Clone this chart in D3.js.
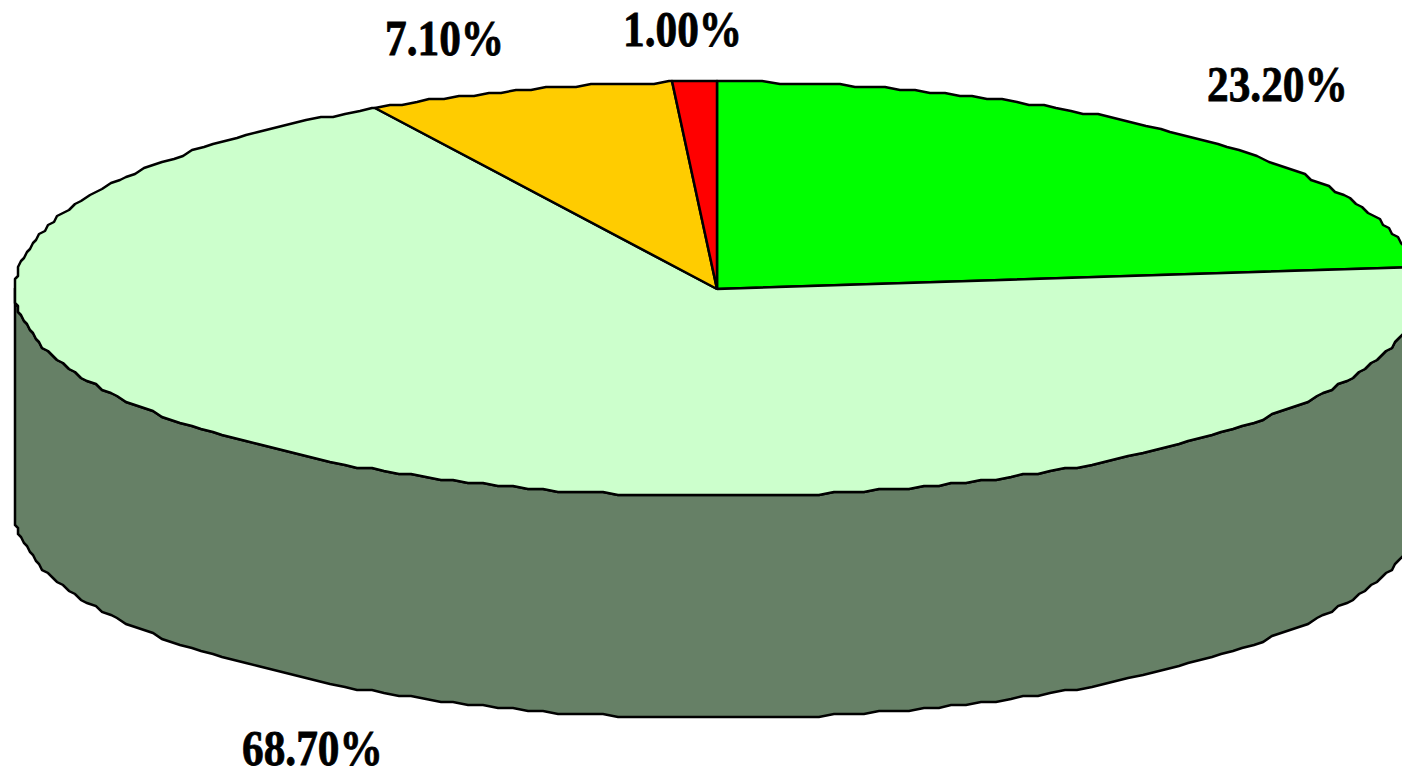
<!DOCTYPE html>
<html>
<head>
<meta charset="utf-8">
<script src="https://cdn.jsdelivr.net/npm/d3@7"></script>
<style>
  html, body { margin: 0; padding: 0; background: #fff; overflow: hidden; }
</style>
</head>
<body>
<div id="chart"></div>
<script>
const labels = ["23.20%", "68.70%", "7.10%", "1.00%"]
const values = [23.2, 68.7, 7.1, 1.0]
const colors = ["#00FF00", "#CCFFCC", "#FFCC00", "#FF0000"]
const wallColor = "#668066"

const width = 1402
const height = 769
const cx = 717
const cy = 289
const rx = 702
const ry = 207
const depth = 222

// label anchors, x is left edge and y the baseline
const labelPos = [[1207, 101], [242, 765], [385, 55], [623, 46]]

const svg = d3.select("#chart")
    .append("svg")
    .attr("width", width)
    .attr("height", height)
    .style("display", "block")
    .style("background", "#fff")

const pie = d3.pie().sort(null).value(d => d)
const slices = pie(values)

// the original outline is rough, so points get snapped to a coarse grid
const snap = v => Math.round(v / 3) * 3

// 0 angle is 12 o'clock, going clockwise
const px = a => snap(cx + rx * Math.sin(a))
const py = a => snap(cy - ry * Math.cos(a))
const step = 0.022

function rimAngles(a0, a1) {
  return d3.range(a0, a1, step).concat([a1])
}

// side wall, only the front half of the disc shows
// uses the rim points of the big slice so both outlines stay on top of each other
const frontAngles = rimAngles(slices[1].startAngle, slices[1].endAngle)
    .filter(a => a >= Math.PI / 2 && a <= Math.PI * 1.5)
const wallAngles = [Math.PI / 2, ...frontAngles, Math.PI * 1.5]

const wall = d3.area()
    .x(a => px(a))
    .y0(a => py(a))
    .y1(a => py(a) + depth)

svg.append("path")
    .attr("d", wall(wallAngles))
    .attr("fill", wallColor)
    .attr("stroke", "#000")
    .attr("stroke-width", 2.5)

// top of the disc, one closed polygon per slice
const sliceLine = d3.line()
    .x(p => p[0])
    .y(p => p[1])

function slicePoints(d) {
  const rim = rimAngles(d.startAngle, d.endAngle).map(a => [px(a), py(a)])
  return [[cx, cy], ...rim, [cx, cy]]
}

svg.append("g")
  .selectAll("path")
  .data(slices)
  .join("path")
    .attr("d", d => sliceLine(slicePoints(d)))
    .attr("fill", (_, i) => colors[i])
    .attr("stroke", "#000")
    .attr("stroke-width", 2.5)
    .attr("stroke-linejoin", "round")

// font in the reference is taller than it is wide
svg.selectAll("text")
  .data(labels)
  .join("text")
    .attr("transform", (_, i) => `translate(${labelPos[i][0]},${labelPos[i][1]}) scale(0.85,1)`)
    .attr("font-family", "'Liberation Serif', serif")
    .attr("font-weight", "bold")
    .attr("font-size", 51)
    .attr("fill", "#000")
    .attr("stroke", "#000")
    .attr("stroke-width", 0.8)
    .text(d => d)
</script>
</body>
</html>
